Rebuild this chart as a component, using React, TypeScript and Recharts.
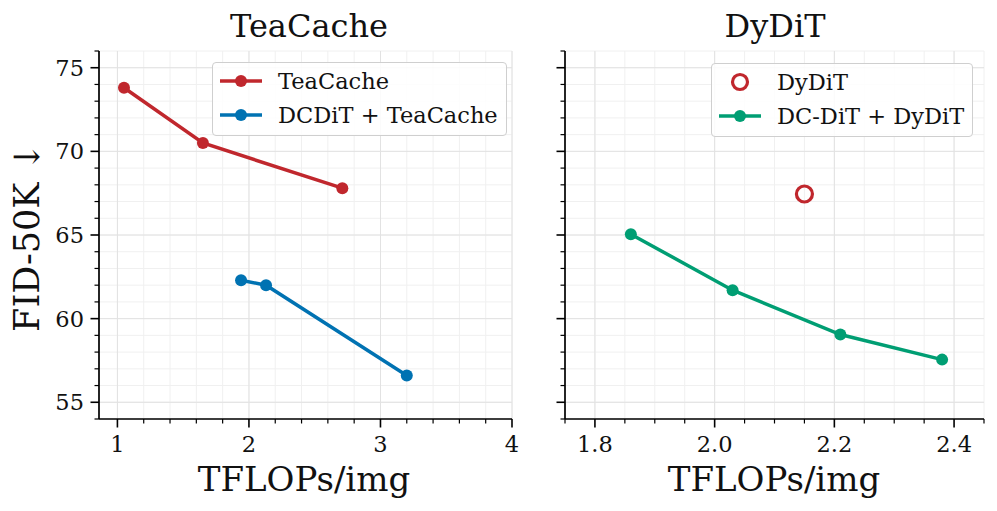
import React from 'react';
import {
  ComposedChart,
  Line,
  Scatter,
  XAxis,
  YAxis,
  CartesianGrid,
  Legend,
} from 'recharts';

// FID-50K vs TFLOPs/img
const teaCacheX = [1.05, 1.65, 2.71];
const teaCacheY = [73.8, 70.5, 67.8];
const dcTeaCacheX = [1.94, 2.13, 3.2];
const dcTeaCacheY = [62.3, 62.0, 56.6];
const dyDiTX = [2.15];
const dyDiTY = [67.45];
const dcDyDiTX = [1.86, 2.03, 2.21, 2.38];
const dcDyDiTY = [65.05, 61.7, 59.05, 57.55];

const yMajor = [55, 60, 65, 70, 75];
const yMinor = [54, 56, 57, 58, 59, 61, 62, 63, 64, 66, 67, 68, 69, 71, 72, 73, 74, 76];
const leftXMajor = [1, 2, 3, 4];
const leftXMinor = [1.2, 1.4, 1.6, 1.8, 2.2, 2.4, 2.6, 2.8, 3.2, 3.4, 3.6, 3.8];
const rightXMajor = [1.8, 2.0, 2.2, 2.4];
const rightXMinor = [1.75, 1.85, 1.9, 1.95, 2.05, 2.1, 2.15, 2.25, 2.3, 2.35, 2.45];

const RED = '#c0272d';
const BLUE = '#0072b2';
const GREEN = '#009e73';
const FONT = '"DejaVu Serif", serif';
const TICK_FONT = 22.5;

const toPoints = (xs: number[], ys: number[]) => xs.map((x, i) => ({ x, y: ys[i] }));
const sorted = (a: number[], b: number[]) => [...a, ...b].sort((p, q) => p - q);
const isMajor = (v: number, majors: number[]) => majors.some((m) => Math.abs(m - v) < 1e-9);

const XTick = ({ x, y, payload, majors, fmt }: any) => {
  const major = isMajor(payload.value, majors);
  return (
    <g>
      <line x1={x} x2={x} y1={y} y2={y + (major ? 8.5 : 4.5)} stroke="#000" strokeWidth={major ? 1.6 : 1.2} />
      {major && (
        <text x={x} y={y + 33} textAnchor="middle" fontSize={TICK_FONT} fontFamily={FONT} fill="#111">
          {fmt(payload.value)}
        </text>
      )}
    </g>
  );
};

const YTick = ({ x, y, payload, showLabel }: any) => {
  const major = isMajor(payload.value, yMajor);
  return (
    <g>
      <line x1={x} x2={x - (major ? 8.5 : 4.5)} y1={y} y2={y} stroke="#000" strokeWidth={major ? 1.6 : 1.2} />
      {major && showLabel && (
        <text x={x - 15} y={y} dy="0.36em" textAnchor="end" fontSize={TICK_FONT} fontFamily={FONT} fill="#111">
          {payload.value}
        </text>
      )}
    </g>
  );
};

type Entry = { label: string; color: string; kind: 'line' | 'ring' };

const LegendBox = ({ entries, width }: { entries: Entry[]; width: number }) => (
  <div
    style={{
      position: 'relative',
      width,
      height: 74,
      boxSizing: 'border-box',
      background: 'rgba(255,255,255,0.85)',
      border: '1.2px solid #cfcfcf',
      borderRadius: 4,
      fontFamily: FONT,
      fontSize: 22.5,
      color: '#111',
    }}
  >
    {entries.map((e, i) => (
      <div key={e.label} style={{ position: 'absolute', left: 0, top: 2 + i * 34, height: 32, width: '100%' }}>
        <svg width={60} height={32} style={{ position: 'absolute', left: 0, top: 0 }}>
          {e.kind === 'line' ? (
            <>
              <line x1={7} x2={49} y1={16} y2={16} stroke={e.color} strokeWidth={3.5} />
              <circle cx={28} cy={16} r={6} fill={e.color} />
            </>
          ) : (
            <circle cx={28} cy={16} r={7.5} fill="none" stroke={e.color} strokeWidth={3.2} />
          )}
        </svg>
        <span style={{ position: 'absolute', left: 65, top: 0, lineHeight: '32px', whiteSpace: 'nowrap' }}>
          {e.label}
        </span>
      </div>
    ))}
  </div>
);

const dot = (color: string) => ({ r: 6, fill: color, stroke: color, strokeWidth: 0 });

export default function App() {
  const leftTicks = sorted(leftXMajor, leftXMinor);
  const rightTicks = sorted(rightXMajor, rightXMinor);
  const yTicks = sorted(yMajor, yMinor);

  return (
    <div style={{ position: 'absolute', left: 0, top: 0, width: 997, height: 511, background: '#fff', fontFamily: FONT }}>
      <div style={{ position: 'absolute', left: 0, top: 0 }}>
        <ComposedChart width={530} height={511} margin={{ top: 51, right: 18, bottom: 52, left: 0 }}>
          <CartesianGrid stroke="#f0f0f0" strokeWidth={1} />
          <CartesianGrid stroke="#e2e2e2" strokeWidth={1} horizontalValues={yMajor} verticalValues={leftXMajor} />
          <XAxis
            type="number"
            dataKey="x"
            domain={[0.86, 4]}
            allowDataOverflow
            ticks={leftTicks}
            interval={0}
            height={40}
            tickSize={0}
            tickMargin={0}
            tickLine={false}
            axisLine={{ stroke: '#000', strokeWidth: 1.7 }}
            tick={(p: any) => <XTick {...p} majors={leftXMajor} fmt={(v: number) => String(v)} />}
          />
          <YAxis
            type="number"
            domain={[54, 76]}
            allowDataOverflow
            ticks={yTicks}
            interval={0}
            width={99}
            tickSize={0}
            tickMargin={0}
            tickLine={false}
            axisLine={{ stroke: '#000', strokeWidth: 1.7 }}
            tick={(p: any) => <YTick {...p} showLabel />}
          />
          <Line
            data={toPoints(teaCacheX, teaCacheY)}
            dataKey="y"
            name="TeaCache"
            stroke={RED}
            strokeWidth={3.5}
            dot={dot(RED)}
            activeDot={false}
            isAnimationActive={false}
          />
          <Line
            data={toPoints(dcTeaCacheX, dcTeaCacheY)}
            dataKey="y"
            name="DCDiT + TeaCache"
            stroke={BLUE}
            strokeWidth={3.5}
            dot={dot(BLUE)}
            activeDot={false}
            isAnimationActive={false}
          />
          <Legend
            layout="horizontal"
            verticalAlign="middle"
            align="center"
            wrapperStyle={{ left: 212, top: 62, width: 295, height: 74 }}
            content={() => (
              <LegendBox
                width={295}
                entries={[
                  { label: 'TeaCache', color: RED, kind: 'line' },
                  { label: 'DCDiT + TeaCache', color: BLUE, kind: 'line' },
                ]}
              />
            )}
          />
        </ComposedChart>
      </div>

      <div style={{ position: 'absolute', left: 530, top: 0 }}>
        <ComposedChart width={467} height={511} margin={{ top: 51, right: 13, bottom: 52, left: 0 }}>
          <CartesianGrid stroke="#f0f0f0" strokeWidth={1} />
          <CartesianGrid stroke="#e2e2e2" strokeWidth={1} horizontalValues={yMajor} verticalValues={rightXMajor} />
          <XAxis
            type="number"
            dataKey="x"
            domain={[1.75, 2.45]}
            allowDataOverflow
            ticks={rightTicks}
            interval={0}
            height={40}
            tickSize={0}
            tickMargin={0}
            tickLine={false}
            axisLine={{ stroke: '#000', strokeWidth: 1.7 }}
            tick={(p: any) => <XTick {...p} majors={rightXMajor} fmt={(v: number) => v.toFixed(1)} />}
          />
          <YAxis
            type="number"
            domain={[54, 76]}
            allowDataOverflow
            ticks={yTicks}
            interval={0}
            width={35}
            tickSize={0}
            tickMargin={0}
            tickLine={false}
            axisLine={{ stroke: '#000', strokeWidth: 1.7 }}
            tick={(p: any) => <YTick {...p} showLabel={false} />}
          />
          <Line
            data={toPoints(dcDyDiTX, dcDyDiTY)}
            dataKey="y"
            name="DC-DiT + DyDiT"
            stroke={GREEN}
            strokeWidth={3.5}
            dot={dot(GREEN)}
            activeDot={false}
            isAnimationActive={false}
          />
          <Scatter
            data={toPoints(dyDiTX, dyDiTY)}
            dataKey="y"
            name="DyDiT"
            isAnimationActive={false}
            shape={(p: any) => <circle cx={p.cx} cy={p.cy} r={8} fill="none" stroke={RED} strokeWidth={3.2} />}
          />
          <Legend
            layout="horizontal"
            verticalAlign="middle"
            align="center"
            wrapperStyle={{ left: 181, top: 63, width: 262, height: 74 }}
            content={() => (
              <LegendBox
                width={262}
                entries={[
                  { label: 'DyDiT', color: RED, kind: 'ring' },
                  { label: 'DC-DiT + DyDiT', color: GREEN, kind: 'line' },
                ]}
              />
            )}
          />
        </ComposedChart>
      </div>

      <svg
        width={997}
        height={511}
        style={{ position: 'absolute', left: 0, top: 0, pointerEvents: 'none' }}
        fontFamily={FONT}
        fill="#111"
      >
        <text x={309} y={37} textAnchor="middle" fontSize={32}>TeaCache</text>
        <text x={775} y={37} textAnchor="middle" fontSize={32}>DyDiT</text>
        <text x={304} y={491} textAnchor="middle" fontSize={34}>TFLOPs/img</text>
        <text x={774} y={491} textAnchor="middle" fontSize={34}>TFLOPs/img</text>
        <text x={39} y={237} textAnchor="middle" fontSize={35} transform="rotate(-90 39 237)">
          FID-50K ↓
        </text>
      </svg>
    </div>
  );
}
